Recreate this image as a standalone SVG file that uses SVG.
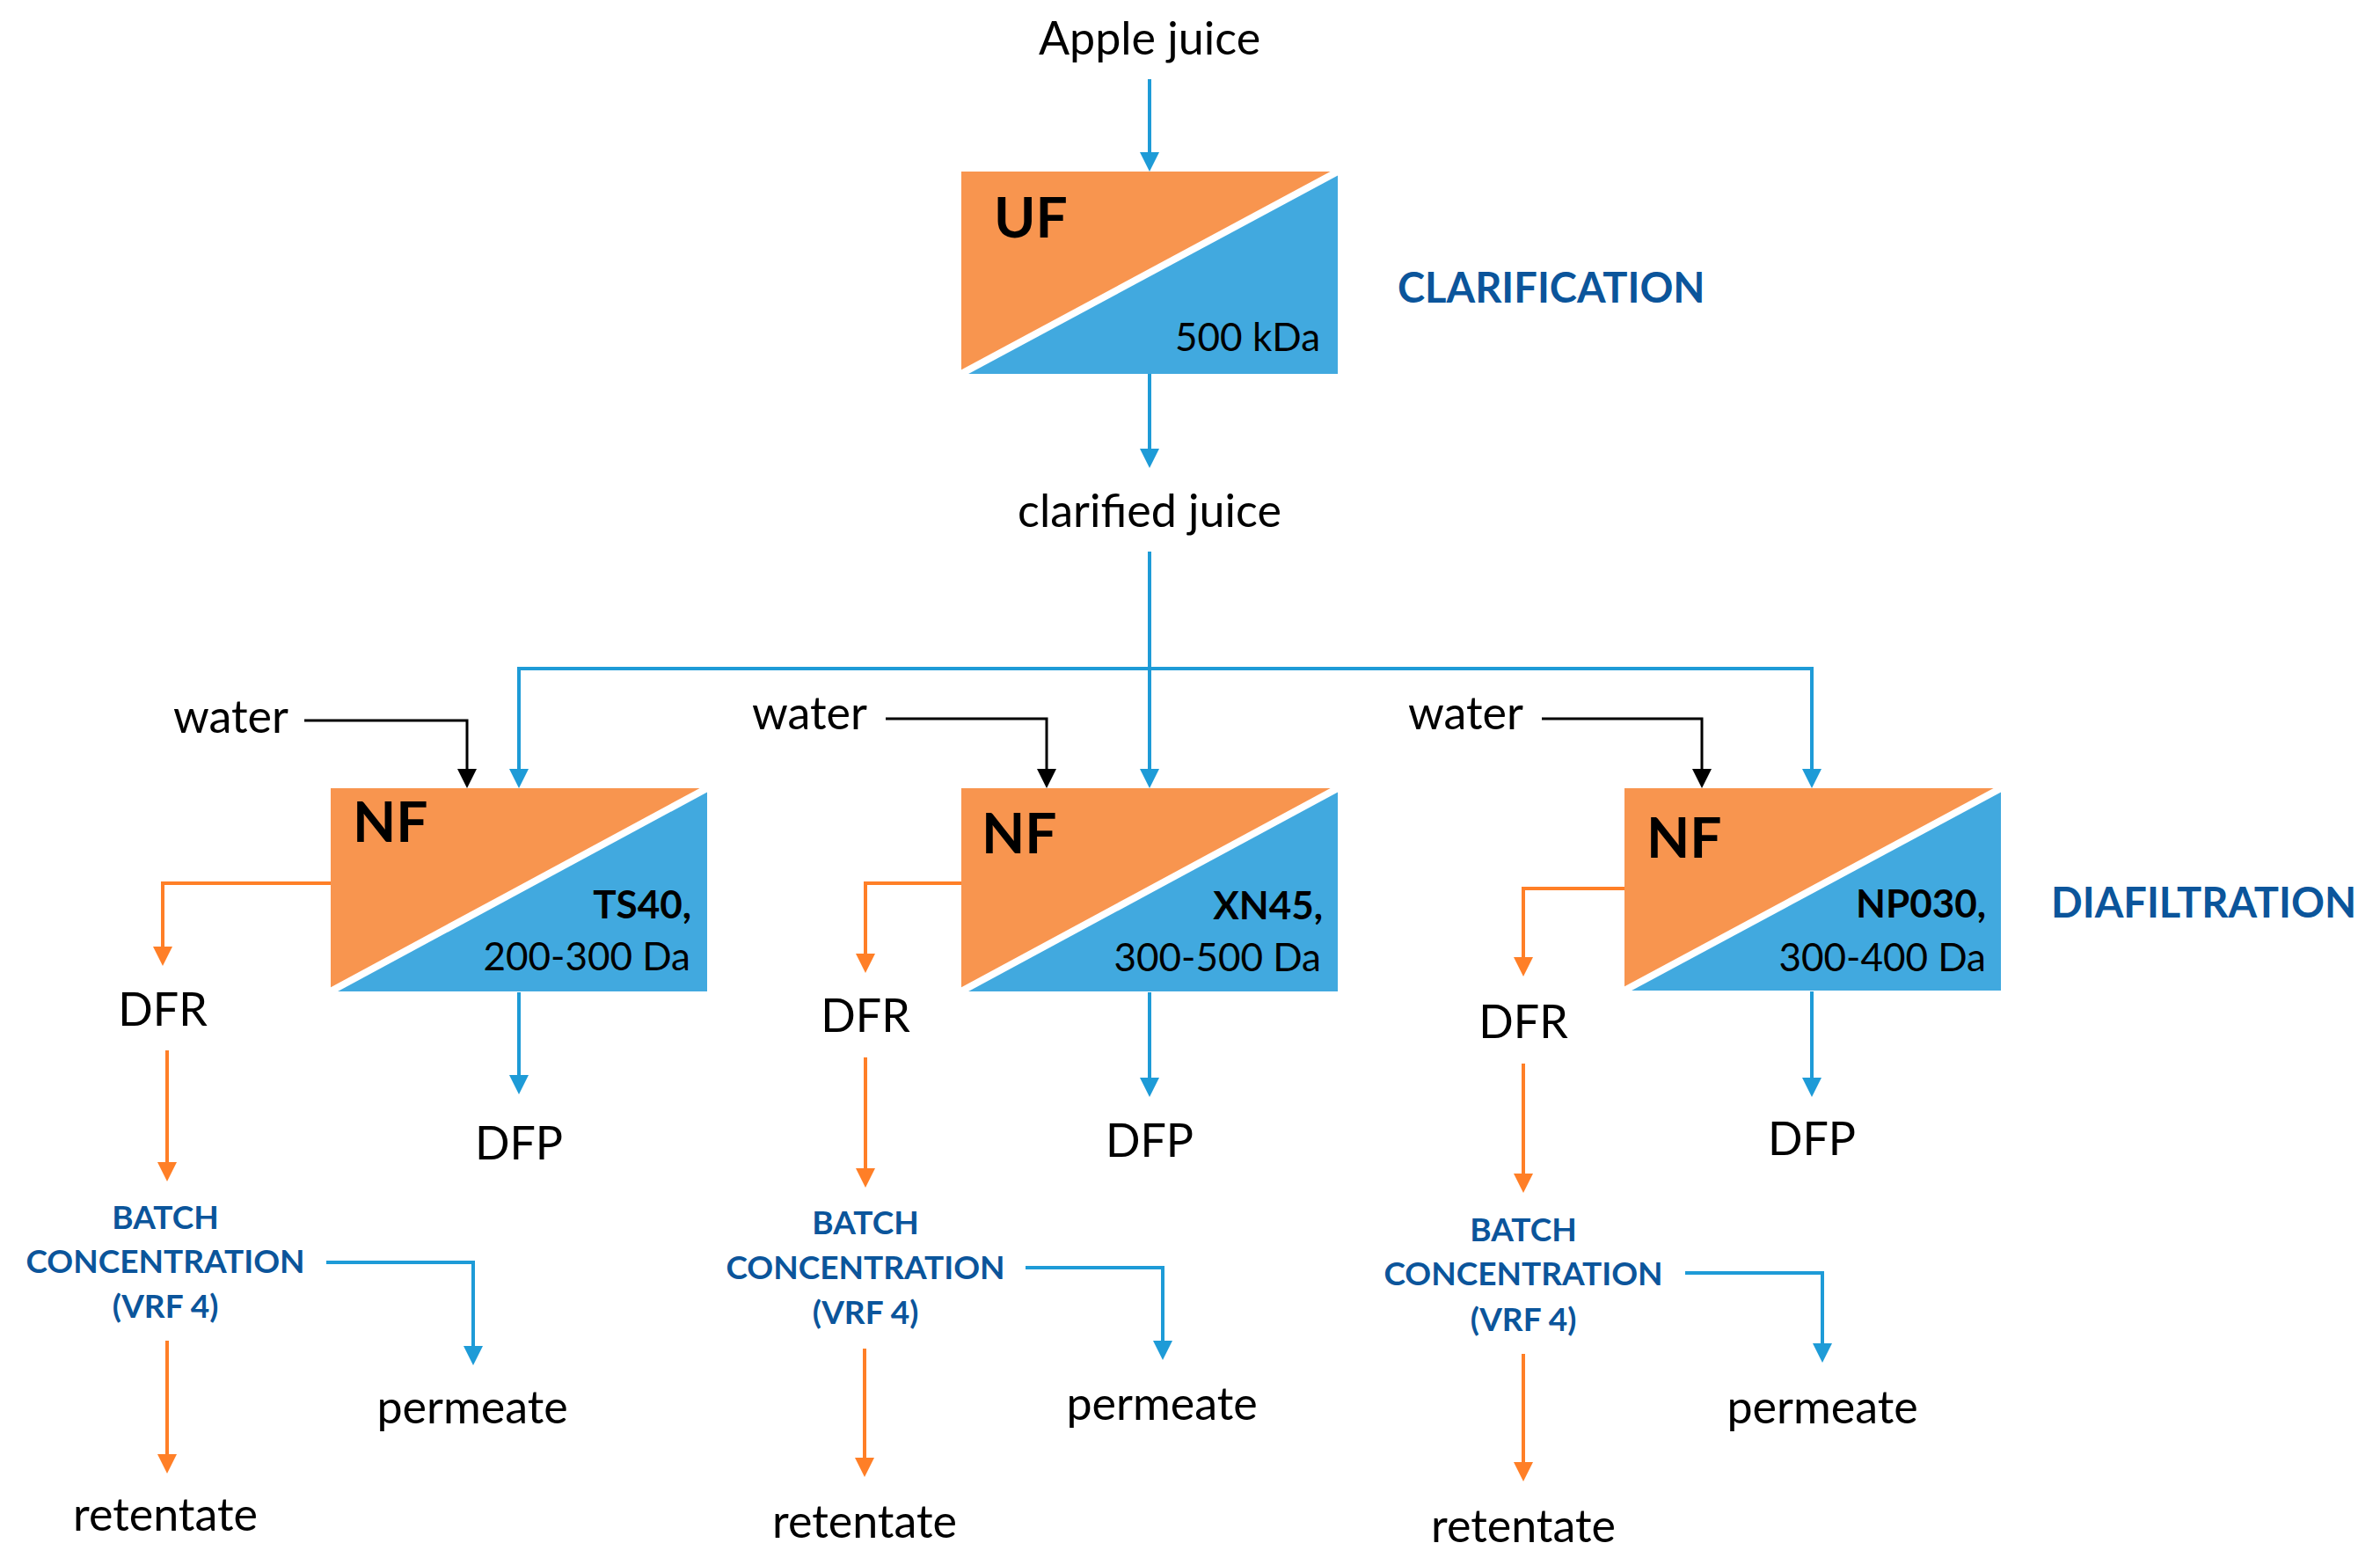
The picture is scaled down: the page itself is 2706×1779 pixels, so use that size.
<svg xmlns="http://www.w3.org/2000/svg" width="2706" height="1779" viewBox="0 0 2706 1779">
<style>
.t{font-family:Lato,'Open Sans','Liberation Sans',sans-serif;font-size:52px;fill:#000}
.c{text-anchor:middle}
.e{text-anchor:end}
.big{font-size:64px;font-weight:bold}
.lb{font-size:44px}
.lbb{font-size:44px;font-weight:bold}
.head{font-size:47px;font-weight:bold;fill:#0B559B}
.bc{font-size:37px;font-weight:bold;fill:#0B559B;text-anchor:middle}
.ln{fill:none;stroke-width:4}
.blue{stroke:#1E9BD7}
.orange{stroke:#FF7F27}
.black{stroke:#000;stroke-width:3}
.of{fill:#F8954F}
.bf{fill:#41A9DF}
.cut{stroke:#fff;stroke-width:8}
</style>
<defs>
<marker id="ab" viewBox="0 0 22 22" refX="12" refY="11" markerWidth="22" markerHeight="22" markerUnits="userSpaceOnUse" orient="auto"><path d="M0,0 L22,11 L0,22 z" fill="#1E9BD7"/></marker>
<marker id="ao" viewBox="0 0 22 22" refX="12" refY="11" markerWidth="22" markerHeight="22" markerUnits="userSpaceOnUse" orient="auto"><path d="M0,0 L22,11 L0,22 z" fill="#FF7F27"/></marker>
<marker id="ak" viewBox="0 0 22 22" refX="12" refY="11" markerWidth="22" markerHeight="22" markerUnits="userSpaceOnUse" orient="auto"><path d="M0,0 L22,11 L0,22 z" fill="#000"/></marker>
</defs>

<g id="connectors">
<path class="ln blue" d="M1307,90 V185" marker-end="url(#ab)"/>
<path class="ln blue" d="M1307,425 V522" marker-end="url(#ab)"/>
<path class="ln blue" d="M1307,627 V886" marker-end="url(#ab)"/>
<path class="ln blue" d="M1307,760 H590 V886" marker-end="url(#ab)"/>
<path class="ln blue" d="M1307,760 H2060 V886" marker-end="url(#ab)"/>
<path class="ln black" d="M346,819 H531 V886" marker-end="url(#ak)"/>
<path class="ln black" d="M1007,817 H1190 V886" marker-end="url(#ak)"/>
<path class="ln black" d="M1753,817 H1935 V886" marker-end="url(#ak)"/>
<path class="ln orange" d="M376,1004 H185 V1088" marker-end="url(#ao)"/>
<path class="ln orange" d="M1093,1004 H984 V1096" marker-end="url(#ao)"/>
<path class="ln orange" d="M1847,1010 H1732 V1100" marker-end="url(#ao)"/>
<path class="ln blue" d="M590,1128 V1234" marker-end="url(#ab)"/>
<path class="ln blue" d="M1307,1128 V1237" marker-end="url(#ab)"/>
<path class="ln blue" d="M2060,1127 V1237" marker-end="url(#ab)"/>
<path class="ln orange" d="M190,1194 V1333" marker-end="url(#ao)"/>
<path class="ln orange" d="M984,1202 V1340" marker-end="url(#ao)"/>
<path class="ln orange" d="M1732,1209 V1346" marker-end="url(#ao)"/>
<path class="ln blue" d="M371,1435 H538 V1542" marker-end="url(#ab)"/>
<path class="ln blue" d="M1166,1441 H1322 V1536" marker-end="url(#ab)"/>
<path class="ln blue" d="M1916,1447 H2072 V1539" marker-end="url(#ab)"/>
<path class="ln orange" d="M190,1524 V1665" marker-end="url(#ao)"/>
<path class="ln orange" d="M983,1533 V1669" marker-end="url(#ao)"/>
<path class="ln orange" d="M1732,1539 V1674" marker-end="url(#ao)"/>
</g>

<g id="apple-juice"><text class="t c" x="1307" y="62">Apple juice</text></g>

<g id="uf">
<polygon class="of" points="1093,195 1521,195 1093,425"/>
<polygon class="bf" points="1521,195 1521,425 1093,425"/>
<line class="cut" x1="1089" y1="427" x2="1521" y2="195"/>
<text class="t big" x="1130" y="270">UF</text>
<text class="t lb e" x="1501" y="399">500 kDa</text>
</g>
<g id="clarification"><text class="t head" x="1589" y="344">CLARIFICATION</text></g>
<g id="clarified-juice"><text class="t c" x="1307" y="599">clarified juice</text></g>

<g id="water1"><text class="t" x="197" y="833">water</text></g>
<g id="water2"><text class="t" x="855" y="829">water</text></g>
<g id="water3"><text class="t" x="1601" y="829">water</text></g>

<g id="nf1">
<polygon class="of" points="376,896 804,896 376,1127"/>
<polygon class="bf" points="804,896 804,1127 376,1127"/>
<line class="cut" x1="372" y1="1129" x2="804" y2="896"/>
<text class="t big" x="401" y="957">NF</text>
<text class="t lbb e" x="786" y="1044">TS40,</text>
<text class="t lb e" x="785" y="1103">200-300 Da</text>
</g>
<g id="nf2">
<polygon class="of" points="1093,896 1521,896 1093,1127"/>
<polygon class="bf" points="1521,896 1521,1127 1093,1127"/>
<line class="cut" x1="1089" y1="1129" x2="1521" y2="896"/>
<text class="t big" x="1116" y="970">NF</text>
<text class="t lbb e" x="1504" y="1045">XN45,</text>
<text class="t lb e" x="1502" y="1104">300-500 Da</text>
</g>
<g id="nf3">
<polygon class="of" points="1847,896 2275,896 1847,1126"/>
<polygon class="bf" points="2275,896 2275,1126 1847,1126"/>
<line class="cut" x1="1843" y1="1128" x2="2275" y2="896"/>
<text class="t big" x="1872" y="975">NF</text>
<text class="t lbb e" x="2258" y="1043">NP030,</text>
<text class="t lb e" x="2258" y="1104">300-400 Da</text>
</g>
<g id="diafiltration"><text class="t head" x="2332" y="1043">DIAFILTRATION</text></g>

<g id="dfr1"><text class="t c" x="185" y="1166">DFR</text></g>
<g id="dfr2"><text class="t c" x="984" y="1173">DFR</text></g>
<g id="dfr3"><text class="t c" x="1732" y="1180">DFR</text></g>
<g id="dfp1"><text class="t c" x="590" y="1318">DFP</text></g>
<g id="dfp2"><text class="t c" x="1307" y="1315">DFP</text></g>
<g id="dfp3"><text class="t c" x="2060" y="1313">DFP</text></g>

<g id="batch1"><text class="t bc" x="188" y="1397">BATCH</text><text class="t bc" x="188" y="1447">CONCENTRATION</text><text class="t bc" x="188" y="1498">(VRF 4)</text></g>
<g id="batch2"><text class="t bc" x="984" y="1403">BATCH</text><text class="t bc" x="984" y="1454">CONCENTRATION</text><text class="t bc" x="984" y="1505">(VRF 4)</text></g>
<g id="batch3"><text class="t bc" x="1732" y="1411">BATCH</text><text class="t bc" x="1732" y="1461">CONCENTRATION</text><text class="t bc" x="1732" y="1513">(VRF 4)</text></g>

<g id="permeate1"><text class="t c" x="537" y="1618">permeate</text></g>
<g id="permeate2"><text class="t c" x="1321" y="1614">permeate</text></g>
<g id="permeate3"><text class="t c" x="2072" y="1618">permeate</text></g>
<g id="retentate1"><text class="t c" x="188" y="1740">retentate</text></g>
<g id="retentate2"><text class="t c" x="983" y="1748">retentate</text></g>
<g id="retentate3"><text class="t c" x="1732" y="1753">retentate</text></g>
</svg>
